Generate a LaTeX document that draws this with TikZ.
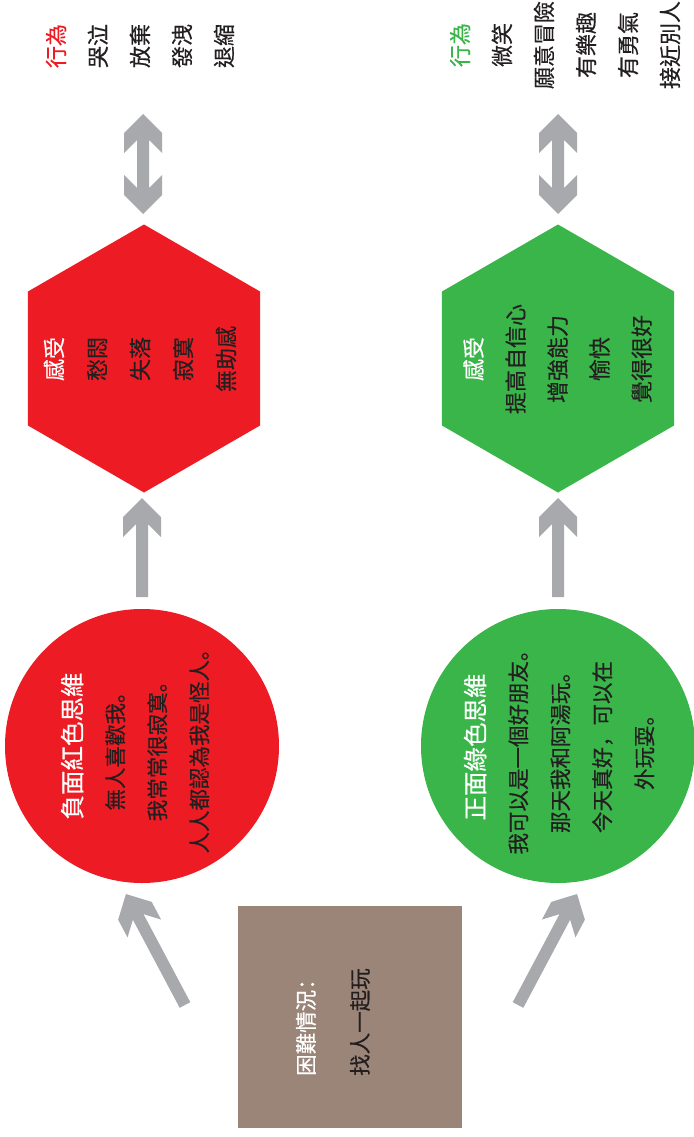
\documentclass[tikz,border=0pt]{standalone}
\usepackage{fontspec}
\newfontfamily\cjk[FakeBold=0.4]{Noto Sans CJK TC}
\newfontfamily\cjkp[FakeBold=0.4]{Noto Sans CJK SC}
\newcommand\stp{{\cjkp 。}}
\newcommand\cma{{\cjkp ，}}
\newcommand\cln{{\cjkp ：}}
\usetikzlibrary{shapes.geometric}
\definecolor{hred}{RGB}{237,28,36}
\definecolor{hgreen}{RGB}{57,181,74}
\definecolor{arrowgray}{RGB}{167,169,172}
\definecolor{boxbrown}{RGB}{154,133,120}
\definecolor{ink}{RGB}{35,31,32}
\newcommand\singlearrow[3]{\begin{scope}[shift={(#1)},rotate=#2]
 \fill[arrowgray] (0,-6) -- ({#3-26},-6) -- ({#3-39},-19) -- ({#3-19},-19) -- (#3,0) -- ({#3-19},19) -- ({#3-39},19) -- ({#3-26},6) -- (0,6) -- cycle;
\end{scope}}
\newcommand\doublearrow[3]{\begin{scope}[shift={(#1)},rotate=#2]
 \fill[arrowgray] (0,0) -- (19,-19) -- (39,-19) -- (26,-6) -- ({#3-26},-6) -- ({#3-39},-19) -- ({#3-19},-19) -- (#3,0) -- ({#3-19},19) -- ({#3-39},19) -- ({#3-26},6) -- (26,6) -- (39,19) -- (19,19) -- cycle;
\end{scope}}
\tikzset{
  vtext/.style={rotate=90, align=center, inner sep=0, text=ink, font=\cjk\fontsize{21.5}{42}\selectfont},
  hexa/.style={regular polygon, regular polygon sides=6, shape border rotate=30, minimum size=268, inner sep=0},
  bubble/.style={circle, minimum size=274, inner sep=0},
}
\begin{document}
\begin{tikzpicture}[x=1pt,y=-1pt]
\useasboundingbox (0,0) rectangle (693,1137);
% shapes
\node[fill=boxbrown, minimum width=224, minimum height=222, inner sep=0, anchor=north west] (box) at (238,906) {};
\node[bubble, fill=hred] (negc) at (142,746) {};
\node[bubble, fill=hgreen] (posc) at (558,746) {};
\node[hexa, fill=hred] (negh) at (144,358.5) {};
\node[hexa, fill=hgreen] (posh) at (558,358.5) {};
% arrow end points
\coordinate (a1) at (185,1005);
\coordinate (a2) at (518,1005);
\coordinate (a3) at (142,597);
\coordinate (a4) at (558,597);
\coordinate (a5) at (143,214);
\coordinate (a6) at (558,214);
\singlearrow{a1}{118}{125.7}
\singlearrow{a2}{62}{125.7}
\singlearrow{a3}{90}{99}
\singlearrow{a4}{90}{99}
\doublearrow{a5}{90}{100}
\doublearrow{a6}{90}{100}
% texts
\node[vtext, align=left, anchor=west, font=\cjk\fontsize{21.5}{54}\selectfont] (boxt) at (333,1076) {{\color{white}困難情況\cln}\\找人一起玩};
\node[vtext] (negct) at (135,746) {{\color{white}\fontsize{24.5}{42}\selectfont 負面紅色思維}\\無人喜歡我\stp\\我常常很寂寞\stp\\人人都認為我是怪人\stp};
\node[vtext] (posct) at (559,747) {{\color{white}\fontsize{24.5}{42}\selectfont 正面綠色思維}\\我可以是一個好朋友\stp\\那天我和阿湯玩\stp\\今天真好\cma 可以在\\外玩耍\stp};
\node[vtext, font=\cjk\fontsize{22}{43}\selectfont] (neght) at (140,359) {{\color{white}感受}\\愁悶\\失落\\寂寞\\無助感};
\node[vtext, font=\cjk\fontsize{22}{42}\selectfont] (posht) at (557.5,359) {{\color{white}感受}\\提高自信心\\增強能力\\愉快\\覺得很好};
\node[vtext, font=\cjk\fontsize{22}{42}\selectfont] (negb) at (140,46) {{\color{hred}行為}\\哭泣\\放棄\\發洩\\退縮};
\node[vtext, font=\cjk\fontsize{22}{42}\selectfont] (posb) at (565,45) {{\color{hgreen}行為}\\微笑\\願意冒險\\有樂趣\\有勇氣\\接近別人};
\end{tikzpicture}
\end{document}
